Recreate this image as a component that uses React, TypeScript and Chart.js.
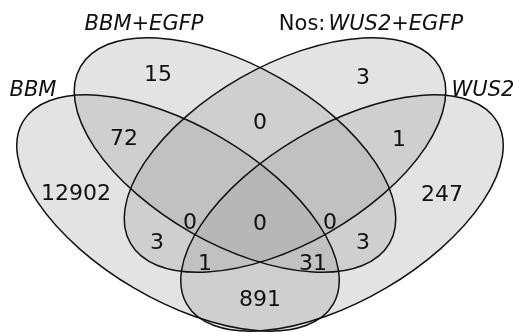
import React, { useEffect, useRef } from "react";
import { Chart, registerables } from "chart.js";

Chart.register(...registerables);

// Set names (plain prefix + italic part)
const setNamePlain = ["", "", "Nos:", ""];
const setNameItalic = ["BBM", "BBM+EGFP", "WUS2+EGFP", "WUS2"];
const setNameX = [33, 144, 371, 483];
const setNameY = [88, 22, 22, 88];

// Ellipses (data units, angle in degrees, clockwise on screen)
const ellipseCX = [178, 235, 285, 342];
const ellipseCY = [213, 155, 155, 213];
const ellipseA = [180, 178, 178, 180];
const ellipseB = [87, 89, 89, 87];
const ellipseAngle = [30.5, 29.7, -29.7, -30.5];

// Region counts and their anchor positions
const regionCounts = [15, 3, 0, 72, 1, 12902, 0, 0, 0, 247, 3, 3, 1, 31, 891];
const regionX = [158, 363, 260, 124, 399, 76, 190, 260, 330, 442, 157, 363, 205, 313, 260];
const regionY = [73, 76, 121, 137, 138, 192, 221, 222, 221, 193, 241, 241, 262, 262, 298];

const FONT = '"DejaVu Sans", Verdana, sans-serif';

const vennPlugin = {
  id: "venn",
  beforeDatasetsDraw(chart: any) {
    const { ctx, scales } = chart;
    const xs = scales.x;
    const ys = scales.y;
    const paths: Path2D[] = [];
    for (let i = 0; i < ellipseCX.length; i++) {
      const px = xs.getPixelForValue(ellipseCX[i]);
      const py = ys.getPixelForValue(ellipseCY[i]);
      const ra = Math.abs(xs.getPixelForValue(ellipseCX[i] + ellipseA[i]) - px);
      const rb = Math.abs(ys.getPixelForValue(ellipseCY[i] + ellipseB[i]) - py);
      const p = new Path2D();
      p.ellipse(px, py, ra, rb, (ellipseAngle[i] * Math.PI) / 180, 0, Math.PI * 2);
      paths.push(p);
    }
    ctx.save();
    ctx.fillStyle = "rgba(157,157,157,0.286)";
    paths.forEach((p) => ctx.fill(p));
    ctx.strokeStyle = "#111";
    ctx.lineWidth = 1.5;
    paths.forEach((p) => ctx.stroke(p));
    ctx.restore();
  },
  afterDatasetsDraw(chart: any) {
    const { ctx, scales } = chart;
    const xs = scales.x;
    const ys = scales.y;
    ctx.save();
    ctx.fillStyle = "#111";
    // region numbers
    const meta = chart.getDatasetMeta(0);
    ctx.font = `22px ${FONT}`;
    ctx.textAlign = "center";
    ctx.textBaseline = "alphabetic";
    meta.data.forEach((el: any, i: number) => {
      ctx.fillText(String(regionCounts[i]), el.x, el.y + 8);
    });
    // set names
    ctx.textAlign = "left";
    for (let i = 0; i < setNameItalic.length; i++) {
      const cx = xs.getPixelForValue(setNameX[i]);
      const cy = ys.getPixelForValue(setNameY[i]);
      ctx.font = `21px ${FONT}`;
      const gap = setNamePlain[i] ? 3 : 0;
      const w1 = ctx.measureText(setNamePlain[i]).width + gap;
      ctx.font = `italic 21px ${FONT}`;
      const w2 = ctx.measureText(setNameItalic[i]).width;
      const start = cx - (w1 + w2) / 2;
      ctx.font = `21px ${FONT}`;
      ctx.fillText(setNamePlain[i], start, cy + 7.5);
      ctx.font = `italic 21px ${FONT}`;
      ctx.fillText(setNameItalic[i], start + w1, cy + 7.5);
    }
    ctx.restore();
  },
};

export default function App() {
  const ref = useRef<HTMLCanvasElement | null>(null);
  useEffect(() => {
    document.body.style.margin = "0";
    if (!ref.current) return;
    const chart = new Chart(ref.current, {
      type: "scatter",
      data: {
        datasets: [
          {
            data: regionX.map((x, i) => ({ x, y: regionY[i] })),
            pointRadius: 0,
            pointHoverRadius: 0,
          },
        ],
      },
      options: {
        animation: false,
        responsive: false,
        devicePixelRatio: 1,
        layout: { padding: 0 },
        events: [],
        scales: {
          x: { type: "linear", min: 0, max: 520, display: false },
          y: { type: "linear", min: 0, max: 332, reverse: true, display: false },
        },
        plugins: { legend: { display: false }, tooltip: { enabled: false } },
      },
      plugins: [vennPlugin],
    });
    return () => chart.destroy();
  }, []);
  return (
    <div style={{ width: 520, height: 332, background: "#fff" }}>
      <canvas ref={ref} width={520} height={332} style={{ display: "block" }} />
    </div>
  );
}
